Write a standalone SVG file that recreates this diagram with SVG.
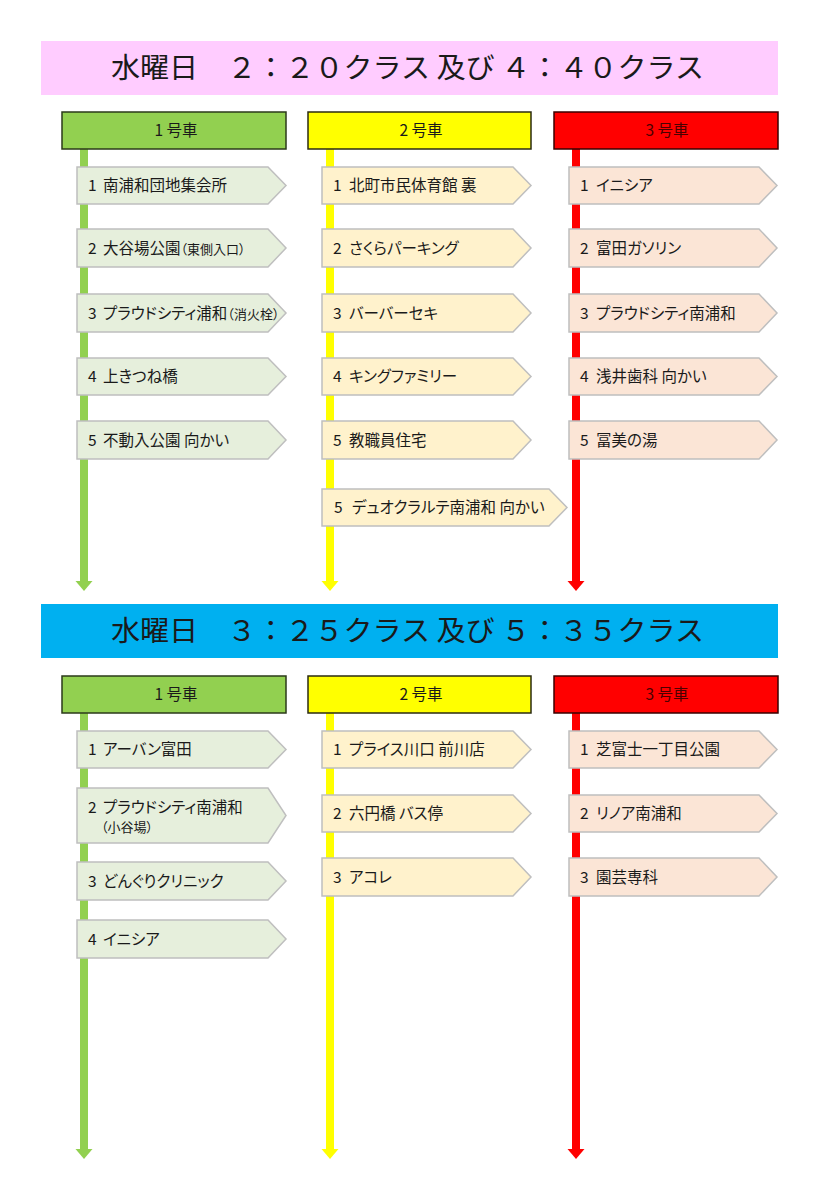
<svg xmlns="http://www.w3.org/2000/svg" width="825" height="1200" viewBox="0 0 825 1200">
<style>
text{font-family:"Noto Sans CJK JP","Noto Sans",sans-serif;font-feature-settings:"palt" 1;fill:#1a1a1a}
.title{font-size:28px;font-feature-settings:normal}
.hd{font-size:15.5px;text-anchor:middle}
.lbl{font-size:15.5px}
.sm{font-size:13px}
.ng{fill:#E6EFDC;stroke:#BFBFBF;stroke-width:1.5}
.ny{fill:#FFF2CC;stroke:#BFBFBF;stroke-width:1.5}
.nr{fill:#FBE5D6;stroke:#BFBFBF;stroke-width:1.5}
.hg{fill:#92D050;stroke:#2b3a1a;stroke-width:1.5}
.hy{fill:#FFFF00;stroke:#2b2b10;stroke-width:1.5}
.hr{fill:#FF0000;stroke:#3a0000;stroke-width:1.5}
.lg{fill:#92D050}.ly{fill:#FFFF00}.lr{fill:#FF0000}
</style>

<!-- Section 1 -->
<g id="title1">
<rect x="41" y="41" width="737" height="54" fill="#FFCCFF"/>
<text class="title" x="111" y="78" textLength="593" lengthAdjust="spacingAndGlyphs">水曜日　２：２０クラス 及び ４：４０クラス</text>
</g>

<g id="connectors">
<!-- top -->
<rect class="lg" x="80" y="149" width="8" height="433"/>
<path class="lg" d="M75.5,581 H92.5 L84,591 Z"/>
<rect class="ly" x="326" y="149" width="8" height="433"/>
<path class="ly" d="M321.5,581 H338.5 L330,591 Z"/>
<rect class="lr" x="572" y="149" width="8" height="433"/>
<path class="lr" d="M567.5,581 H584.5 L576,591 Z"/>
<!-- bottom -->
<rect class="lg" x="80" y="713" width="8" height="437"/>
<path class="lg" d="M75.5,1149 H92.5 L84,1159 Z"/>
<rect class="ly" x="326" y="713" width="8" height="437"/>
<path class="ly" d="M321.5,1149 H338.5 L330,1159 Z"/>
<rect class="lr" x="572" y="713" width="8" height="437"/>
<path class="lr" d="M567.5,1149 H584.5 L576,1159 Z"/>
</g>

<g id="h1-1"><rect class="hg" x="62" y="112" width="224" height="37"/><text class="hd" x="176" y="136">1 号車</text></g>
<g id="h1-2"><rect class="hy" x="308" y="112" width="223" height="37"/><text class="hd" x="421" y="136">2 号車</text></g>
<g id="h1-3"><rect class="hr" x="554" y="112" width="224" height="37"/><text class="hd" x="667" y="136" style="fill:#4a0000">3 号車</text></g>

<!-- column 1 top -->
<g id="a1"><path class="ng" d="M77,167 H268 L286,185.5 L268,204 H77 Z"/><text class="lbl" x="88" y="191">1</text><text class="lbl" x="103" y="191">南浦和団地集会所</text></g>
<g id="a2"><path class="ng" d="M77,229 H268 L286,248 L268,267 H77 Z"/><text class="lbl" x="88" y="254">2</text><text class="lbl" x="103" y="254">大谷場公園<tspan class="sm">（東側入口）</tspan></text></g>
<g id="a3"><path class="ng" d="M77,294 H268 L286,313 L268,332 H77 Z"/><text class="lbl" x="88" y="319">3</text><text class="lbl" x="103" y="319">プラウドシティ浦和<tspan class="sm">（消火栓）</tspan></text></g>
<g id="a4"><path class="ng" d="M77,358 H268 L286,376.5 L268,395 H77 Z"/><text class="lbl" x="88" y="382">4</text><text class="lbl" x="103" y="382">上きつね橋</text></g>
<g id="a5"><path class="ng" d="M77,421 H268 L286,440 L268,459 H77 Z"/><text class="lbl" x="88" y="446">5</text><text class="lbl" x="103" y="446">不動入公園 向かい</text></g>

<!-- column 2 top -->
<g id="b1"><path class="ny" d="M322,167 H513 L531,185.5 L513,204 H322 Z"/><text class="lbl" x="333" y="191">1</text><text class="lbl" x="349" y="191">北町市民体育館 裏</text></g>
<g id="b2"><path class="ny" d="M322,229 H513 L531,248 L513,267 H322 Z"/><text class="lbl" x="333" y="254">2</text><text class="lbl" x="349" y="254">さくらパーキング</text></g>
<g id="b3"><path class="ny" d="M322,294 H513 L531,313 L513,332 H322 Z"/><text class="lbl" x="333" y="319">3</text><text class="lbl" x="349" y="319">バーバーセキ</text></g>
<g id="b4"><path class="ny" d="M322,358 H513 L531,376.5 L513,395 H322 Z"/><text class="lbl" x="333" y="382">4</text><text class="lbl" x="349" y="382">キングファミリー</text></g>
<g id="b5"><path class="ny" d="M322,421 H513 L531,440 L513,459 H322 Z"/><text class="lbl" x="333" y="446">5</text><text class="lbl" x="349" y="446">教職員住宅</text></g>
<g id="b6"><path class="ny" d="M322,489 H549 L567,507.5 L549,526 H322 Z"/><text class="lbl" x="334" y="513">5</text><text class="lbl" x="352" y="513">デュオクラルテ南浦和 向かい</text></g>

<!-- column 3 top -->
<g id="c1"><path class="nr" d="M569,167 H759 L777,185.5 L759,204 H569 Z"/><text class="lbl" x="580" y="191">1</text><text class="lbl" x="596" y="191">イニシア</text></g>
<g id="c2"><path class="nr" d="M569,229 H759 L777,248 L759,267 H569 Z"/><text class="lbl" x="580" y="254">2</text><text class="lbl" x="596" y="254">富田ガソリン</text></g>
<g id="c3"><path class="nr" d="M569,294 H759 L777,313 L759,332 H569 Z"/><text class="lbl" x="580" y="319">3</text><text class="lbl" x="596" y="319">プラウドシティ南浦和</text></g>
<g id="c4"><path class="nr" d="M569,358 H759 L777,376.5 L759,395 H569 Z"/><text class="lbl" x="580" y="382">4</text><text class="lbl" x="596" y="382">浅井歯科 向かい</text></g>
<g id="c5"><path class="nr" d="M569,421 H759 L777,440 L759,459 H569 Z"/><text class="lbl" x="580" y="446">5</text><text class="lbl" x="596" y="446">冨美の湯</text></g>

<!-- Section 2 -->
<g id="title2">
<rect x="41" y="604" width="737" height="54" fill="#00B0F0"/>
<text class="title" x="111" y="641" textLength="593" lengthAdjust="spacingAndGlyphs">水曜日　３：２５クラス 及び ５：３５クラス</text>
</g>

<g id="h2-1"><rect class="hg" x="62" y="676" width="224" height="37"/><text class="hd" x="176" y="700">1 号車</text></g>
<g id="h2-2"><rect class="hy" x="308" y="676" width="223" height="37"/><text class="hd" x="421" y="700">2 号車</text></g>
<g id="h2-3"><rect class="hr" x="554" y="676" width="224" height="37"/><text class="hd" x="667" y="700" style="fill:#4a0000">3 号車</text></g>

<g id="d1"><path class="ng" d="M77,731 H268 L286,749.5 L268,768 H77 Z"/><text class="lbl" x="88" y="755">1</text><text class="lbl" x="103" y="755">アーバン富田</text></g>
<g id="d2"><path class="ng" d="M77,788 H268 L286,815.5 L268,843 H77 Z"/><text class="lbl" x="88" y="813">2</text><text class="lbl" x="103" y="813">プラウドシティ南浦和</text><text class="sm" x="101" y="832">（小谷場）</text></g>
<g id="d3"><path class="ng" d="M77,862 H268 L286,881 L268,900 H77 Z"/><text class="lbl" x="88" y="887">3</text><text class="lbl" x="103" y="887">どんぐりクリニック</text></g>
<g id="d4"><path class="ng" d="M77,920 H268 L286,939 L268,958 H77 Z"/><text class="lbl" x="88" y="945">4</text><text class="lbl" x="103" y="945">イニシア</text></g>

<g id="e1"><path class="ny" d="M322,731 H513 L531,749.5 L513,768 H322 Z"/><text class="lbl" x="333" y="755">1</text><text class="lbl" x="349" y="755">プライス川口 前川店</text></g>
<g id="e2"><path class="ny" d="M322,795 H513 L531,813.5 L513,832 H322 Z"/><text class="lbl" x="333" y="819">2</text><text class="lbl" x="349" y="819">六円橋 バス停</text></g>
<g id="e3"><path class="ny" d="M322,858 H513 L531,877 L513,896 H322 Z"/><text class="lbl" x="333" y="883">3</text><text class="lbl" x="349" y="883">アコレ</text></g>

<g id="f1"><path class="nr" d="M569,731 H759 L777,749.5 L759,768 H569 Z"/><text class="lbl" x="580" y="755">1</text><text class="lbl" x="596" y="755">芝富士一丁目公園</text></g>
<g id="f2"><path class="nr" d="M569,795 H759 L777,813.5 L759,832 H569 Z"/><text class="lbl" x="580" y="819">2</text><text class="lbl" x="596" y="819">リノア南浦和</text></g>
<g id="f3"><path class="nr" d="M569,858 H759 L777,877 L759,896 H569 Z"/><text class="lbl" x="580" y="883">3</text><text class="lbl" x="596" y="883">園芸専科</text></g>
</svg>
